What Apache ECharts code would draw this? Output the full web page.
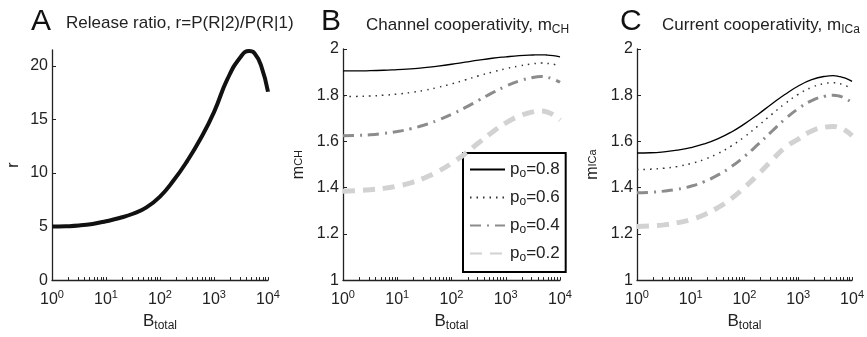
<!DOCTYPE html>
<html>
<head>
<meta charset="utf-8">
<script src="https://cdn.jsdelivr.net/npm/echarts@6/dist/echarts.min.js"></script>
<style>
  html, body { margin: 0; padding: 0; background: #fff; }
  #chart { width: 867px; height: 337px; }
</style>
</head>
<body>
<div id="chart"></div>
<script>
// B_total sample points (quarter decades plus a few near the peak)
const bTotal = [1, 1.778, 3.162, 5.623, 10, 17.78, 31.62, 56.23, 100, 177.8, 316.2, 562.3,
  1000, 1778, 3162, 4467, 5623, 7499, 10000];

// panel A: release ratio r
const ratioR = [5.0, 5.03, 5.1, 5.25, 5.5, 5.8, 6.2, 6.8, 7.8, 9.3, 11.1, 13.2,
  15.7, 18.8, 20.9, 21.4, 21.2, 20.0, 17.6];

// panel B: channel cooperativity m_CH
const chP08 = [1.905, 1.905, 1.906, 1.908, 1.911, 1.914, 1.919, 1.926, 1.934, 1.943, 1.952, 1.96,
  1.966, 1.971, 1.974, 1.975, 1.974, 1.971, 1.966];
const chP06 = [1.795, 1.795, 1.797, 1.8, 1.805, 1.812, 1.821, 1.834, 1.849, 1.866, 1.884, 1.9,
  1.915, 1.927, 1.936, 1.939, 1.938, 1.934, 1.927];
const chP04 = [1.625, 1.626, 1.629, 1.635, 1.643, 1.655, 1.671, 1.692, 1.717, 1.746, 1.778, 1.81,
  1.839, 1.862, 1.877, 1.881, 1.878, 1.87, 1.856];
const chP02 = [1.385, 1.387, 1.391, 1.397, 1.407, 1.421, 1.442, 1.47, 1.505, 1.547, 1.594, 1.64,
  1.68, 1.71, 1.728, 1.732, 1.728, 1.715, 1.692];

// panel C: current cooperativity m_ICa
const icaP08 = [1.55, 1.551, 1.555, 1.562, 1.573, 1.589, 1.611, 1.64, 1.676, 1.717, 1.761, 1.803,
  1.84, 1.867, 1.882, 1.885, 1.882, 1.874, 1.86];
const icaP06 = [1.478, 1.48, 1.484, 1.492, 1.504, 1.522, 1.547, 1.58, 1.62, 1.667, 1.716, 1.763,
  1.804, 1.834, 1.851, 1.854, 1.851, 1.842, 1.827];
const icaP04 = [1.378, 1.38, 1.385, 1.393, 1.406, 1.426, 1.454, 1.49, 1.535, 1.587, 1.642, 1.696,
  1.742, 1.777, 1.796, 1.8, 1.797, 1.786, 1.767];
const icaP02 = [1.232, 1.234, 1.239, 1.248, 1.262, 1.283, 1.313, 1.352, 1.401, 1.457, 1.516, 1.573,
  1.61, 1.645, 1.662, 1.665, 1.661, 1.648, 1.625];

const poNames = ['0.8', '0.6', '0.4', '0.2'];
const xTicks = [1, 2, 3, 4, 5, 6, 7, 8, 9, 10, 20, 30, 40, 50, 60, 70, 80, 90, 100,
  200, 300, 400, 500, 600, 700, 800, 900, 1000, 2000, 3000, 4000, 5000, 6000, 7000, 8000, 9000, 10000];
const xLabels = [1, 10, 100, 1000, 10000];

const FONT = "'Liberation Sans', Arial, Helvetica, sans-serif";
const chart = echarts.init(document.getElementById('chart'));

const lineStyles = [
  { color: '#000', width: 1.3, type: 'solid' },
  { color: '#333', width: 1.5, type: [1.5, 5] },
  { color: '#8c8c8c', width: 3, type: [11, 6, 2, 6] },
  { color: '#d2d2d2', width: 5, type: [12, 8] }
];

function pairs(vals) {
  return bTotal.map((b, i) => [b, vals[i]]);
}

function xAxisFor(idx) {
  return {
    type: 'log', logBase: 10, gridIndex: idx, min: 1, max: 10000,
    axisLine: { onZero: false, lineStyle: { color: '#222', width: 1.3 } },
    axisTick: { inside: true, length: 3, customValues: xTicks, lineStyle: { color: '#222' } },
    splitLine: { show: false },
    axisLabel: {
      customValues: xLabels,
      margin: 9,
      color: '#222', fontSize: 16, fontFamily: FONT,
      formatter: v => '10{s|' + Math.round(Math.log10(v)) + '}',
      rich: { s: { fontSize: 11, fontFamily: FONT, color: '#222', padding: [0, 0, 10, 0] } }
    },
    name: 'B{sub|total}', nameLocation: 'middle', nameGap: 25,
    nameTextStyle: {
      fontSize: 17, fontFamily: FONT, color: '#222',
      rich: { sub: { fontSize: 12, fontFamily: FONT, color: '#222', padding: [10, 0, 0, 0] } }
    }
  };
}

function yAxisFor(idx, min, max, interval, showMax, name, gap) {
  return {
    type: 'value', gridIndex: idx, min: min, max: max, interval: interval,
    axisLine: { show: true, lineStyle: { color: '#222', width: 1.3 } },
    axisTick: { show: true, inside: true, length: 4, lineStyle: { color: '#222' } },
    splitLine: { show: false },
    axisLabel: { margin: 4, color: '#222', fontSize: 16, fontFamily: FONT, showMaxLabel: showMax },
    name: name, nameLocation: 'middle', nameRotate: 90, nameGap: gap,
    nameTextStyle: {
      fontSize: 16, fontFamily: FONT, color: '#222',
      rich: { sub: { fontSize: 11, fontFamily: FONT, color: '#222' } }
    }
  };
}

const panelSeries = [];
[[chP08, chP06, chP04, chP02], [icaP08, icaP06, icaP04, icaP02]].forEach((group, g) => {
  group.forEach((vals, k) => {
    panelSeries.push({
      type: 'line', name: poNames[k], xAxisIndex: g + 1, yAxisIndex: g + 1,
      data: pairs(vals), smooth: true, showSymbol: false, symbol: 'none',
      lineStyle: lineStyles[k], itemStyle: { color: lineStyles[k].color },
      z: 10 - k
    });
  });
});

const titleText = { fontSize: 17, fontWeight: 'normal', color: '#222', fontFamily: FONT,
  rich: { sub: { fontSize: 12, fontFamily: FONT, color: '#222', padding: [9, 0, 0, 0] } } };
const letterText = { fontSize: 30, fontWeight: 'normal', color: '#111', fontFamily: FONT };

chart.setOption({
  animation: false,
  backgroundColor: '#fff',
  title: [
    { text: 'A', left: 31, top: 7, padding: 0, textStyle: letterText },
    { text: 'Release ratio, r=P(R|2)/P(R|1)', left: 66, top: 15, padding: 0, textStyle: titleText },
    { text: 'B', left: 321, top: 7, padding: 0, textStyle: letterText },
    { text: 'Channel cooperativity, m{sub|CH}', left: 366, top: 15, padding: 0, textStyle: titleText },
    { text: 'C', left: 620, top: 7, padding: 0, textStyle: letterText },
    { text: 'Current cooperativity, m{sub|ICa}', left: 662, top: 15, padding: 0, textStyle: titleText }
  ],
  grid: [
    { left: 52, top: 50, width: 216, height: 231 },
    { left: 343, top: 49, width: 217, height: 232 },
    { left: 637, top: 49, width: 216, height: 232 }
  ],
  xAxis: [xAxisFor(0), xAxisFor(1), xAxisFor(2)],
  yAxis: [
    yAxisFor(0, 0, 21.5, 5, false, 'r', 30),
    yAxisFor(1, 1, 2, 0.2, true, 'm{sub|CH}', 36),
    yAxisFor(2, 1, 2, 0.2, true, 'm{sub|ICa}', 36)
  ],
  legend: {
    data: poNames,
    orient: 'vertical',
    left: 463, top: 153,
    padding: [8, 6, 8, 6],
    itemGap: 9,
    itemWidth: 35, itemHeight: 14,
    itemStyle: { opacity: 0 },
    borderColor: '#000', borderWidth: 2, borderRadius: 0,
    backgroundColor: '#fff',
    formatter: n => 'p{sub|o}=' + n,
    textStyle: {
      fontSize: 17, fontFamily: FONT, color: '#222',
      rich: { sub: { fontSize: 12, fontFamily: FONT, color: '#222', padding: [9, 0, 0, 0] } }
    }
  },
  series: [
    {
      type: 'line', name: 'r', xAxisIndex: 0, yAxisIndex: 0,
      data: pairs(ratioR), smooth: true, showSymbol: false, symbol: 'none',
      lineStyle: { color: '#111', width: 4 }, itemStyle: { color: '#111' }
    }
  ].concat(panelSeries)
});
</script>
</body>
</html>
